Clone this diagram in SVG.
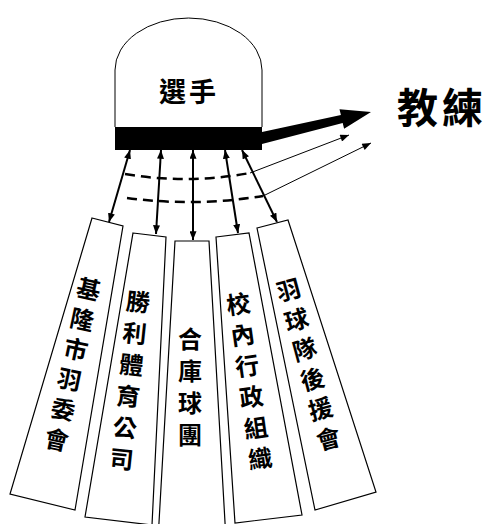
<svg xmlns="http://www.w3.org/2000/svg" width="488" height="524" viewBox="0 0 488 524">
  <style>
    .box { fill: #fff; stroke: #000; stroke-width: 1.2; }
    .lbl { font-family: "Noto Sans CJK TC", "Noto Sans CJK SC", sans-serif; font-weight: 700; fill: #000; text-anchor: middle; dominant-baseline: central; }
    .org { font-size: 24px; }
    .lnk { stroke: #000; stroke-width: 2; fill: none; marker-start: url(#ah); marker-end: url(#ah); }
    .thin { stroke: #000; stroke-width: 1; fill: none; marker-end: url(#ahs); }
    .dash { stroke: #000; stroke-width: 2.5; fill: none; stroke-dasharray: 10 6; }
  </style>
  <defs>
    <marker id="ah" viewBox="0 0 10 8" refX="10" refY="4" markerWidth="9" markerHeight="7" markerUnits="userSpaceOnUse" orient="auto-start-reverse">
      <path d="M0,0 L10,4 L0,8 z" fill="#000"/>
    </marker>
    <marker id="ahs" viewBox="0 0 10 8" refX="10" refY="4" markerWidth="10" markerHeight="7" markerUnits="userSpaceOnUse" orient="auto">
      <path d="M0,0 L10,4 L0,8 z" fill="#000"/>
    </marker>
  </defs>

  <!-- player dome with the black base band -->
  <g id="player">
    <path d="M115,127 V70 A73.5,52 0 0 1 262,70 V127" fill="#fff" stroke="#000" stroke-width="1"/>
    <rect x="115" y="127" width="147" height="23" fill="#000"/>
    <text class="lbl" x="189" y="90" font-size="27" letter-spacing="3">選手</text>
  </g>

  <!-- coach label -->
  <g id="coach">
    <text class="lbl" x="442" y="105" font-size="41" letter-spacing="4">教練</text>
  </g>

  <!-- supporting organisations -->
  <g id="org1">
    <polygon class="box" points="92,218 123,226 75,510 10,494"/>
    <text class="lbl org" transform="translate(73,362.5) rotate(12)">
      <tspan x="0" y="-77">基</tspan><tspan x="0" y="-46">隆</tspan><tspan x="0" y="-15.4">市</tspan><tspan x="0" y="15.4">羽</tspan><tspan x="0" y="46">委</tspan><tspan x="0" y="77">會</tspan>
    </text>
  </g>
  <g id="org2">
    <polygon class="box" points="133,233 166,237 152,525 85,517"/>
    <text class="lbl org" transform="translate(130,378.5) rotate(6)">
      <tspan x="0" y="-79">勝</tspan><tspan x="0" y="-47.4">利</tspan><tspan x="0" y="-15.8">體</tspan><tspan x="0" y="15.8">育</tspan><tspan x="0" y="47.4">公</tspan><tspan x="0" y="79">司</tspan>
    </text>
  </g>
  <g id="org3">
    <polygon class="box" points="175,241 209,241 226,540 158,540"/>
    <text class="lbl org" transform="translate(190,385)">
      <tspan x="0" y="-48">合</tspan><tspan x="0" y="-16">庫</tspan><tspan x="0" y="16">球</tspan><tspan x="0" y="48">團</tspan>
    </text>
  </g>
  <g id="org4">
    <polygon class="box" points="216,237 249,233 302,515 235,523"/>
    <text class="lbl org" transform="translate(249,379.5) rotate(-8)">
      <tspan x="0" y="-78">校</tspan><tspan x="0" y="-47">內</tspan><tspan x="0" y="-15.6">行</tspan><tspan x="0" y="15.6">政</tspan><tspan x="0" y="47">組</tspan><tspan x="0" y="78">織</tspan>
    </text>
  </g>
  <g id="org5">
    <polygon class="box" points="257,228 288,220 376,492 315,510"/>
    <text class="lbl org" transform="translate(308,362.5) rotate(-15)">
      <tspan x="0" y="-77">羽</tspan><tspan x="0" y="-46">球</tspan><tspan x="0" y="-15.4">隊</tspan><tspan x="0" y="15.4">後</tspan><tspan x="0" y="46">援</tspan><tspan x="0" y="77">會</tspan>
    </text>
  </g>

  <!-- connectors -->
  <g id="connectors">
    <line class="lnk" x1="130" y1="150" x2="109" y2="222"/>
    <line class="lnk" x1="161" y1="150" x2="156" y2="234"/>
    <line class="lnk" x1="193" y1="150" x2="193" y2="240"/>
    <line class="lnk" x1="225" y1="150" x2="238" y2="233"/>
    <line class="lnk" x1="242" y1="150" x2="277" y2="222"/>
    <path class="dash" d="M125,174 Q188,184.5 250,173"/>
    <path class="dash" d="M127,198 Q195,207 263,196"/>
    <line class="thin" x1="250" y1="173" x2="349" y2="135"/>
    <line class="thin" x1="263" y1="196" x2="371" y2="143"/>
    <polygon points="262,132 340.9,115.1 339.5,109.3 371,112 344.1,128.7 342.7,122.9 262,144" fill="#000"/>
  </g>
</svg>
